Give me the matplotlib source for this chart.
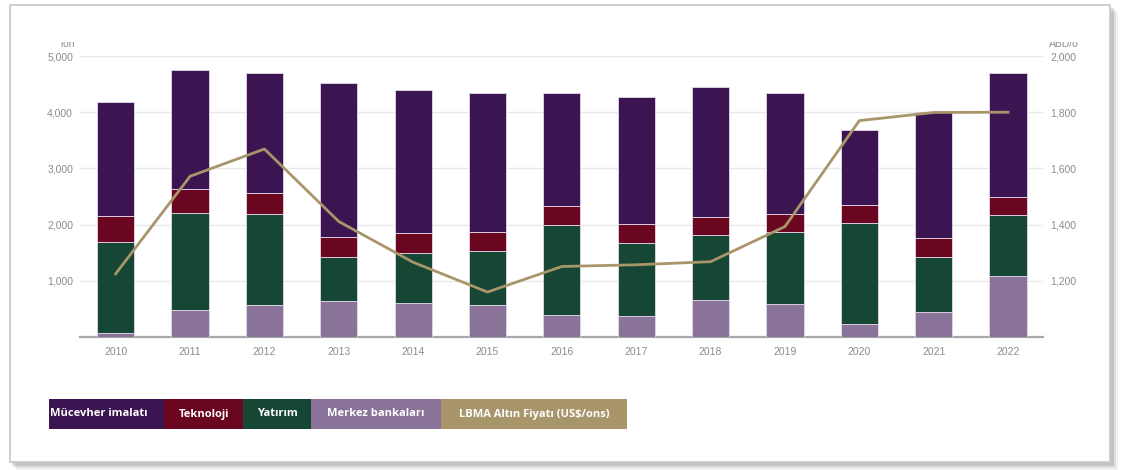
import matplotlib.pyplot as plt
import numpy as np
from matplotlib.patches import Rectangle
from matplotlib.transforms import Bbox, TransformedBbox

years = ["2010", "2011", "2012", "2013", "2014", "2015", "2016",
         "2017", "2018", "2019", "2020", "2021", "2022"]

# talep (ton)
merkez = [80, 484, 573, 632, 601, 571, 393, 375, 661, 589, 240, 446, 1089]
yatirim = [1607, 1731, 1619, 788, 890, 965, 1607, 1304, 1160, 1286, 1796, 983, 1090]
teknoloji = [463, 427, 374, 356, 363, 339, 339, 339, 322, 321, 321, 339, 321]
mucevher = [2040, 2105, 2140, 2740, 2545, 2475, 2011, 2261, 2302, 2154, 1322, 2232, 2206]

# LBMA altın fiyatı (US$/ons)
fiyat = [1225, 1572, 1669, 1411, 1266, 1160, 1251, 1257, 1268, 1393, 1770, 1799, 1800]

c_muc = "#3b1552"
c_tek = "#6a0620"
c_yat = "#154734"
c_mer = "#8a7399"
c_lbma = "#a8956a"
grey = "#8c8c8c"

plt.rcParams['font.family'] = ['Open Sans', 'DejaVu Sans']

fig = plt.figure(figsize=(11.21, 4.70), dpi=100)
W, H = 1121, 470

# kart ve gölgesi
for i, a in enumerate([0.05, 0.08, 0.12]):
    fig.patches.append(Rectangle(((10 + 2 * (3 - i)) / W, (6 - 2 * (3 - i)) / H),
                                 1102 / W, 458 / H, transform=fig.transFigure,
                                 facecolor="#000000", alpha=a, edgecolor="none", zorder=0))
fig.patches.append(Rectangle((10 / W, 8 / H), 1100 / W, 457 / H, transform=fig.transFigure,
                             facecolor="white", edgecolor="#c8c8c8", lw=1.2, zorder=1))

ax = fig.add_axes([80 / W, 1 - 337 / H, (1043 - 80) / W, (337 - 56) / H], zorder=2)
ax.patch.set_alpha(0)
x = np.arange(len(years))
bw = 0.5
edge = dict(edgecolor="#e4d9ea", linewidth=0.6)

b0 = np.zeros(len(years))
for vals, col in [(merkez, c_mer), (yatirim, c_yat), (teknoloji, c_tek), (mucevher, c_muc)]:
    ax.bar(x, vals, bw, bottom=b0, color=col, zorder=3, **edge)
    b0 = b0 + np.array(vals)

tick_font = ['Liberation Sans', 'DejaVu Sans']
ax.set_xlim(-0.48, 12.47)
ax.set_ylim(0, 5000)
ax.set_yticks([1000, 2000, 3000, 4000, 5000])
ax.set_yticklabels(["1,000", "2,000", "3,000", "4,000", "5,000"], family=tick_font)
ax.set_xticks(x)
ax.set_xticklabels(years, family=tick_font)
ax.tick_params(axis="both", length=0, labelsize=7.5, labelcolor=grey)
ax.tick_params(axis="x", pad=7)
ax.tick_params(axis="y", pad=5)
ax.grid(axis="y", color="#e8e8e8", lw=1, zorder=0)
for s in ["top", "right", "left"]:
    ax.spines[s].set_visible(False)
ax.spines["bottom"].set_color("#a8a8a8")
ax.spines["bottom"].set_linewidth(1.6)

ax2 = ax.twinx()
ax2.plot(x, fiyat, color=c_lbma, lw=2.0, zorder=4)
ax2.set_ylim(1000, 2000)
ax2.set_yticks([1200, 1400, 1600, 1800, 2000])
ax2.set_yticklabels(["1,200", "1,400", "1,600", "1,800", "2,000"], family=tick_font)
ax2.tick_params(axis="y", length=0, labelsize=7.5, labelcolor=grey, pad=5)
for s in ax2.spines.values():
    s.set_visible(False)

# birim başlıkları, üstten kırpılmış
clip = TransformedBbox(Bbox([[0, 0], [1, 1 - 42 / H]]), fig.transFigure)
for tx, xp in [("Ton", 59 / W), ("ABD/ö", 1049 / W)]:
    t = fig.text(xp, 1 - 47 / H, tx, fontsize=7.5, color=grey, va="baseline", ha="left",
                 family=tick_font)
    t.set_clip_box(clip)
    t.set_clip_on(True)

# lejant blokları
legend = [("Mücevher imalatı", c_muc, 49, 164),
          ("Teknoloji", c_tek, 164, 243),
          ("Yatırım", c_yat, 243, 311),
          ("Merkez bankaları", c_mer, 311, 441),
          ("LBMA Altın Fiyatı (US$/ons)", c_lbma, 441, 627)]
y0, y1 = 399, 429
for lab, col, l, r in legend:
    fig.patches.append(Rectangle((l / W, 1 - y1 / H), (r - l) / W, (y1 - y0) / H,
                                 transform=fig.transFigure, facecolor=col,
                                 edgecolor="none", zorder=3))
    if lab.startswith("Mücevher"):
        fig.text((l + 1) / W, 1 - (y0 + y1) / 2 / H, lab, ha="left", va="center",
                 color="white", fontsize=8, fontweight="bold", zorder=4)
    else:
        fig.text((l + r) / 2 / W, 1 - (y0 + y1) / 2 / H, lab, ha="center", va="center",
                 color="white", fontsize=8, fontweight="bold", zorder=4)

fig.savefig("out.png", dpi=100)
